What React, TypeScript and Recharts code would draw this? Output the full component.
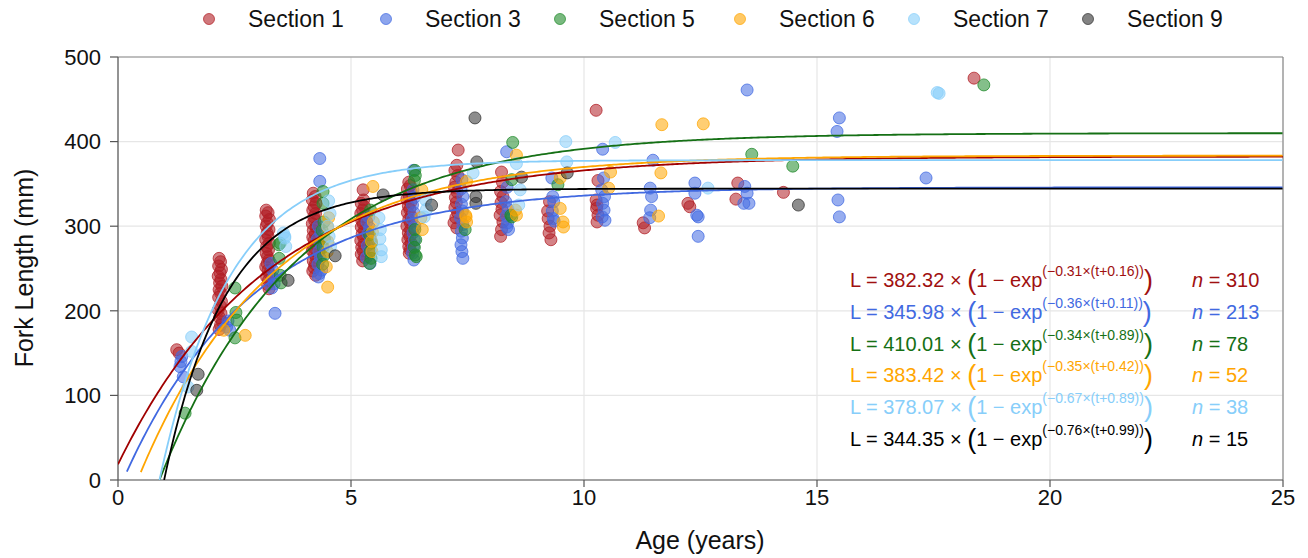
import React from 'react';
import { ComposedChart, Scatter, XAxis, YAxis, CartesianGrid, ReferenceLine } from 'recharts';

const FONT = "'Liberation Sans', Arial, Helvetica, sans-serif";

const sectionNames = ['Section 1', 'Section 3', 'Section 5', 'Section 6', 'Section 7', 'Section 9'];
const pointColors = ['#B01E24', '#4169E1', '#1F8A2A', '#FFA500', '#87CEFA', '#303030'];
const lineColors = ['#A00000', '#4169E1', '#157015', '#FFA500', '#87CEFA', '#000000'];
const textColors = ['#A01010', '#4169E1', '#157015', '#FFA500', '#87CEFA', '#000000'];

// von Bertalanffy parameters printed on the chart
const linfVals = [382.32, 345.98, 410.01, 383.42, 378.07, 344.35];
const kVals = [0.31, 0.36, 0.34, 0.35, 0.67, 0.76];
const t0Vals = [-0.16, 0.11, 0.89, 0.42, 0.89, 0.99];
const t0Labels = ['0.16', '0.11', '0.89', '0.42', '0.89', '0.99'];
const curveStart = [0, 0.19, 0.89, 0.49, 0.89, 0.99];
const nVals = [310, 213, 78, 52, 38, 15];

const xTicks = [0, 5, 10, 15, 20, 25];
const yTicks = [0, 100, 200, 300, 400, 500];

// [age, fork length]
const section1: number[][] = [
  [1.26, 154], [1.31, 150],
  [2.17, 262], [2.2, 258], [2.16, 253], [2.22, 249], [2.19, 245], [2.15, 241], [2.21, 237], [2.18, 233], [2.23, 229], [2.17, 225], [2.2, 221], [2.16, 216], [2.22, 211], [2.19, 206], [2.15, 201], [2.21, 197], [2.18, 192], [2.24, 187], [2.2, 183], [2.17, 178],
  [3.18, 319], [3.22, 316], [3.17, 312], [3.25, 308], [3.2, 304], [3.18, 300], [3.24, 296], [3.2, 292], [3.22, 288], [3.17, 284], [3.25, 280], [3.19, 276], [3.23, 272], [3.18, 268], [3.21, 264], [3.24, 260], [3.2, 256], [3.17, 252], [3.22, 248], [3.25, 244], [3.19, 240], [3.23, 236], [3.21, 231], [3.24, 226],
  [4.19, 339], [4.23, 335], [4.17, 331], [4.25, 327], [4.21, 323], [4.18, 319], [4.24, 315], [4.2, 311], [4.22, 307], [4.17, 303], [4.25, 299], [4.19, 295], [4.23, 291], [4.18, 287], [4.21, 283], [4.24, 279], [4.2, 275], [4.17, 271], [4.22, 267], [4.25, 263], [4.19, 259], [4.23, 255], [4.21, 251], [4.18, 247], [4.24, 242],
  [5.26, 343], [5.27, 331], [5.22, 327], [5.29, 323], [5.25, 319], [5.21, 315], [5.28, 311], [5.23, 307], [5.26, 303], [5.22, 299], [5.29, 295], [5.24, 291], [5.27, 287], [5.21, 283], [5.28, 279], [5.23, 275], [5.26, 271], [5.22, 267], [5.29, 263], [5.25, 259],
  [6.24, 352], [6.27, 348], [6.21, 344], [6.29, 340], [6.25, 336], [6.2, 332], [6.28, 328], [6.23, 324], [6.26, 320], [6.21, 316], [6.29, 312], [6.24, 308], [6.27, 304], [6.2, 300], [6.28, 296], [6.23, 292], [6.26, 288], [6.22, 284], [6.29, 280], [6.24, 276], [6.27, 272], [6.25, 268],
  [7.3, 390], [7.27, 372], [7.23, 366], [7.29, 360], [7.25, 352], [7.22, 346], [7.28, 340], [7.24, 334], [7.26, 328], [7.23, 322], [7.29, 316], [7.25, 310], [7.21, 304], [7.27, 298],
  [8.23, 364], [8.25, 352], [8.21, 341], [8.26, 335], [8.22, 328], [8.24, 320], [8.2, 313], [8.26, 305], [8.23, 296], [8.21, 288],
  [9.26, 329], [9.22, 318], [9.23, 309], [9.27, 300], [9.25, 292], [9.29, 284],
  [10.26, 437], [10.3, 354], [10.26, 331], [10.28, 325], [10.27, 321], [10.3, 313], [10.28, 305],
  [11.27, 304], [11.3, 298],
  [12.23, 327], [12.27, 323],
  [13.3, 351], [13.26, 332],
  [14.28, 340],
  [18.37, 475],
];

const section3: number[][] = [
  [1.37, 146], [1.33, 134], [1.4, 122], [1.35, 140],
  [2.33, 181], [2.4, 177], [2.36, 188],
  [3.37, 197], [3.3, 227], [3.33, 239], [3.28, 256], [3.32, 248], [3.35, 232],
  [4.33, 380], [4.33, 353], [4.3, 300], [4.35, 292], [4.28, 285], [4.36, 278], [4.31, 270], [4.34, 262], [4.29, 255], [4.37, 248], [4.32, 244], [4.3, 240],
  [5.38, 311], [5.34, 305], [5.4, 298], [5.36, 291], [5.42, 284], [5.35, 277], [5.39, 270], [5.33, 263], [5.41, 256],
  [6.34, 366], [6.33, 343], [6.36, 334], [6.32, 325], [6.35, 316], [6.31, 308], [6.37, 300], [6.33, 292], [6.36, 284], [6.34, 276], [6.32, 268], [6.35, 260],
  [7.38, 355], [7.36, 344], [7.4, 335], [7.37, 326], [7.39, 318], [7.35, 310], [7.4, 302], [7.37, 294], [7.39, 286], [7.36, 278], [7.38, 270], [7.4, 262],
  [8.34, 388], [8.35, 346], [8.32, 329], [8.37, 320], [8.33, 312], [8.36, 304], [8.34, 299], [8.38, 296],
  [9.31, 357], [9.33, 335], [9.35, 329], [9.32, 318], [9.34, 309], [9.36, 306],
  [10.4, 391], [10.42, 357], [10.38, 343], [10.44, 335], [10.4, 327], [10.43, 319], [10.39, 311], [10.45, 307],
  [11.48, 378], [11.42, 345], [11.45, 335], [11.43, 319], [11.41, 310],
  [12.38, 351], [12.38, 339], [12.42, 313], [12.45, 311], [12.45, 288],
  [13.5, 461], [13.45, 347], [13.5, 339], [13.43, 327], [13.54, 327],
  [15.48, 428], [15.43, 412], [15.45, 331], [15.48, 311],
  [17.34, 357],
];

const section5: number[][] = [
  [1.44, 79],
  [2.51, 227], [2.55, 189], [2.51, 168], [2.53, 198],
  [3.48, 280], [3.45, 278], [3.48, 242], [3.5, 233], [3.46, 262],
  [4.4, 341], [4.4, 327], [4.42, 305], [4.38, 295], [4.43, 285], [4.4, 275], [4.41, 265], [4.39, 255],
  [5.42, 319], [5.4, 290], [5.44, 280], [5.41, 270], [5.43, 262], [5.4, 256],
  [6.37, 366], [6.38, 360], [6.36, 354], [6.37, 296], [6.39, 284], [6.36, 275], [6.38, 266], [6.4, 264],
  [7.45, 296],
  [8.47, 399], [8.45, 355], [8.45, 311], [8.43, 313],
  [9.44, 349],
  [13.6, 385], [14.48, 371], [18.58, 467],
];

const section6: number[][] = [
  [2.73, 171], [2.27, 177],
  [4.5, 299], [4.5, 282], [4.47, 252], [4.5, 228], [4.52, 310], [4.49, 270],
  [5.47, 347], [5.46, 293], [5.44, 282], [5.48, 305], [5.45, 270],
  [6.52, 343], [6.53, 296], [6.5, 310],
  [7.48, 353], [7.46, 313], [7.48, 305], [7.47, 311],
  [8.55, 384], [8.53, 319], [8.55, 313],
  [9.49, 357], [9.49, 321], [9.55, 305], [9.56, 299],
  [10.57, 364], [10.53, 345],
  [11.67, 420], [11.65, 363], [11.6, 312],
  [12.56, 421],
];

const section7: number[][] = [
  [1.58, 169], [1.58, 152], [1.5, 110],
  [3.55, 292], [3.58, 288], [3.58, 286], [3.6, 276],
  [4.52, 330], [4.55, 315], [4.5, 300], [4.56, 276], [4.53, 288],
  [5.63, 296], [5.65, 272], [5.65, 264], [5.6, 310], [5.62, 285],
  [6.6, 331], [6.57, 311], [6.62, 320],
  [7.62, 363],
  [8.55, 374], [8.63, 343], [8.6, 325],
  [9.61, 400], [9.63, 376],
  [10.67, 399],
  [12.66, 345],
  [17.58, 458], [17.62, 457],
];

const section9: number[][] = [
  [1.72, 125], [1.69, 106], [3.65, 236], [4.66, 265], [5.69, 337], [6.73, 325],
  [7.66, 428], [7.7, 376], [7.68, 335], [7.68, 327], [8.66, 358], [9.64, 363], [14.6, 325],
];

const sectionPoints = [section1, section3, section5, section6, section7, section9];

const toXY = (arr: number[][]) => arr.map(([x, y]) => ({ x, y }));

const buildCurve = (i: number) => {
  const pts: { x: number; y: number }[] = [];
  for (let t = curveStart[i]; t <= 25.0001; t += 0.05) {
    pts.push({ x: t, y: linfVals[i] * (1 - Math.exp(-kVals[i] * (t - t0Vals[i]))) });
  }
  return pts;
};

const makeDot = (color: string) => (props: any) => {
  const { cx, cy } = props;
  if (cx == null || cy == null) return <g />;
  return (
    <circle cx={cx} cy={cy} r={6} fill={color} fillOpacity={0.55} stroke={color} strokeOpacity={0.75} strokeWidth={1} />
  );
};

const noDot = () => <g />;

const legendX = [209, 386, 560, 740, 914, 1088];
const rowY = [287, 319, 351, 382, 414, 446];

export default function App() {
  return (
    <div style={{ position: 'absolute', left: 0, top: 0, width: 1308, height: 558, background: '#fff', overflow: 'hidden' }}>
      <div style={{ position: 'absolute', left: 0, top: 0 }}>
        <ComposedChart width={1308} height={558} margin={{ top: 57, right: 25, bottom: 0, left: 0 }}>
          <CartesianGrid stroke="#e6e6e6" strokeWidth={1.2} />
          <XAxis
            type="number"
            dataKey="x"
            domain={[0, 25]}
            ticks={xTicks}
            allowDataOverflow
            height={78}
            tickSize={7}
            tickMargin={2}
            axisLine={{ stroke: '#555', strokeWidth: 1.2 }}
            tickLine={{ stroke: '#555', strokeWidth: 1.2 }}
            tick={{ fontSize: 22, fill: '#111', fontFamily: FONT }}
          />
          <YAxis
            type="number"
            dataKey="y"
            domain={[0, 500]}
            ticks={yTicks}
            allowDataOverflow
            width={118}
            tickSize={8}
            tickMargin={9}
            axisLine={{ stroke: '#555', strokeWidth: 1.2 }}
            tickLine={{ stroke: '#555', strokeWidth: 1.2 }}
            tick={{ fontSize: 22, fill: '#111', fontFamily: FONT }}
          />
          <ReferenceLine y={500} stroke="#8a8a8a" strokeWidth={1.2} />
          <ReferenceLine x={25} stroke="#8a8a8a" strokeWidth={1.2} />
          {sectionPoints.map((pts, i) => (
            <Scatter
              key={'p' + i}
              name={sectionNames[i]}
              data={toXY(pts)}
              shape={makeDot(pointColors[i])}
              isAnimationActive={false}
            />
          ))}
          {sectionPoints.map((_, i) => (
            <Scatter
              key={'c' + i}
              data={buildCurve(i)}
              line={{ stroke: lineColors[i], strokeWidth: 1.8 }}
              lineType="joint"
              shape={noDot}
              isAnimationActive={false}
            />
          ))}
        </ComposedChart>
      </div>
      <svg width={1308} height={558} style={{ position: 'absolute', left: 0, top: 0, pointerEvents: 'none' }} fontFamily={FONT}>
        {sectionNames.map((name, i) => (
          <g key={name}>
            <circle cx={legendX[i]} cy={19} r={5.5} fill={pointColors[i]} fillOpacity={0.6} stroke={pointColors[i]} strokeOpacity={0.7} />
            <text x={legendX[i] + 39} y={27} fontSize={23} fill="#111">{name}</text>
          </g>
        ))}
        <text x={700} y={549} fontSize={25} fill="#111" textAnchor="middle">Age (years)</text>
        <text x={33} y={268} fontSize={25} fill="#111" textAnchor="middle" transform="rotate(-90 33 268)">Fork Length (mm)</text>
        {linfVals.map((linf, i) => (
          <g key={'eq' + i}>
            <text x={850} y={rowY[i]} fontSize={20} fill={textColors[i]}>
              <tspan>{`L = ${linf.toFixed(2)} × `}</tspan>
              <tspan fontSize={27} dy={2}>(</tspan>
              <tspan fontSize={20} dy={-2}>1 − exp</tspan>
              <tspan fontSize={14} dy={-11}>{`(−${kVals[i].toFixed(2)}×(t+${t0Labels[i]}))`}</tspan>
              <tspan fontSize={27} dy={13}>)</tspan>
            </text>
            <text x={1192} y={rowY[i]} fontSize={20} fill={textColors[i]}>
              <tspan fontStyle="italic">n</tspan>
              <tspan>{` = ${nVals[i]}`}</tspan>
            </text>
          </g>
        ))}
      </svg>
    </div>
  );
}
